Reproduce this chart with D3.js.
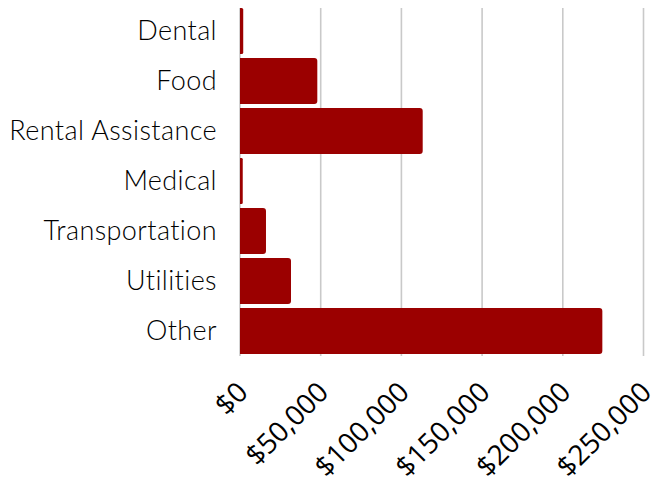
<!DOCTYPE html>
<html lang="en">
<head>
    <meta charset="UTF-8">
    <title>Assistance by Category</title>
    <script src="https://cdn.jsdelivr.net/npm/d3@7"></script>
    <style>
        body {
            margin: 0;
            padding: 0;
            background: #fff;
        }
        .cat-label {
            font-family: 'Lato', sans-serif;
            font-weight: 300;
            font-size: 27px;
            letter-spacing: 0.4px;
            fill: #000;
        }
        .tick text {
            font-family: 'Open Sans', sans-serif;
            font-size: 28px;
            fill: #000;
        }
    </style>
</head>
<body>
    <svg id="chart"></svg>

    <script>
        // Data
        const categories = ["Dental", "Food", "Rental Assistance", "Medical", "Transportation", "Utilities", "Other"];
        const amounts = [2000, 47900, 113200, 1700, 16100, 31600, 224500];
        const tickValues = [0, 50000, 100000, 150000, 200000, 250000];

        const width = 659;
        const height = 487;
        const barColor = "#9b0000";

        const svg = d3.select("#chart")
            .attr("width", width)
            .attr("height", height);

        const x = d3.scaleLinear()
            .domain([0, 250000])
            .range([240, 643.5]);

        const y = d3.scaleBand()
            .domain(categories)
            .range([6, 356])
            .paddingInner(0.08)
            .paddingOuter(0.04);

        // vertical gridlines
        svg.append("g")
            .selectAll("line")
            .data(tickValues)
            .enter().append("line")
            .attr("x1", d => x(d))
            .attr("x2", d => x(d))
            .attr("y1", y.range()[0] + 2)
            .attr("y2", y.range()[1])
            .attr("stroke", "#c9c9c9")
            .attr("stroke-width", 1.6);

        // bar with rounded right end only
        function barPath(x0, y0, w, h, r) {
            r = Math.min(r, w / 2, h / 2);
            return `M${x0},${y0}` +
                `H${x0 + w - r}` +
                `Q${x0 + w},${y0} ${x0 + w},${y0 + r}` +
                `V${y0 + h - r}` +
                `Q${x0 + w},${y0 + h} ${x0 + w - r},${y0 + h}` +
                `H${x0}Z`;
        }

        const data = categories.map((c, i) => ({ cat: c, value: amounts[i] }));

        svg.append("g")
            .selectAll("path")
            .data(data)
            .enter().append("path")
            .attr("d", d => barPath(x(0), y(d.cat), x(d.value) - x(0), y.bandwidth(), 3))
            .attr("fill", barColor);

        // category labels
        svg.append("g")
            .selectAll("text")
            .data(categories)
            .enter().append("text")
            .attr("class", "cat-label")
            .attr("x", 217)
            .attr("y", d => y(d) + y.bandwidth() / 2)
            .attr("dy", "0.35em")
            .attr("text-anchor", "end")
            .text(d => d);

        // x axis, rotated labels
        const xAxis = d3.axisBottom(x)
            .tickValues(tickValues)
            .tickSize(0)
            .tickFormat(d => "$" + d3.format(",")(d));

        const axisG = svg.append("g")
            .attr("transform", `translate(0,${y.range()[1]})`)
            .call(xAxis);

        axisG.select(".domain").remove();
        axisG.selectAll(".tick text")
            .attr("x", 0)
            .attr("y", 0)
            .attr("dy", 0)
            .attr("transform", "translate(9,38) rotate(-45)")
            .style("text-anchor", "end");
    </script>
</body>
</html>
